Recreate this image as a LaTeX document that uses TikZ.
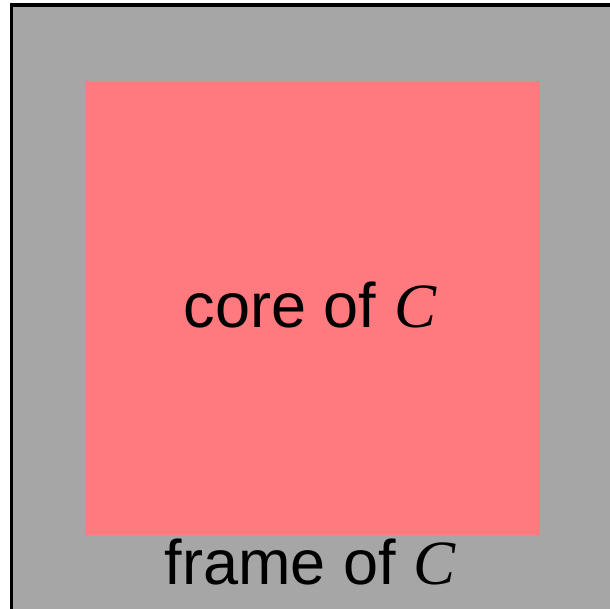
\documentclass[tikz,border=0pt]{standalone}
\usepackage{fontspec}
\setmainfont{Liberation Sans}
\newfontfamily\mathserif{Liberation Serif}
\definecolor{FrameGray}{RGB}{166,166,166}
\definecolor{CorePink}{RGB}{255,122,127}
\usetikzlibrary{positioning}

\begin{document}
\begin{tikzpicture}[x=1pt, y=-1pt,
    framebox/.style={draw=black, fill=FrameGray, line width=3.5pt},
    corebox/.style={fill=CorePink},
    regionlabel/.style={font=\fontsize{63}{70}\selectfont, anchor=base, inner sep=0pt}]
    \useasboundingbox (0,0) rectangle (610,608);
    \clip (0,0) rectangle (610,608);
    % outer frame and inner core
    \draw[framebox] (11.5,5) rectangle (640,640);
    \fill[corebox] (86,81) rectangle (540,535);
    % labels
    \node[regionlabel] (core) at (310,327) {core of {\mathserif\itshape C}};
    \node[regionlabel] (frame) at (310,584) {frame of {\mathserif\itshape C}};
  \end{tikzpicture}
\end{document}
